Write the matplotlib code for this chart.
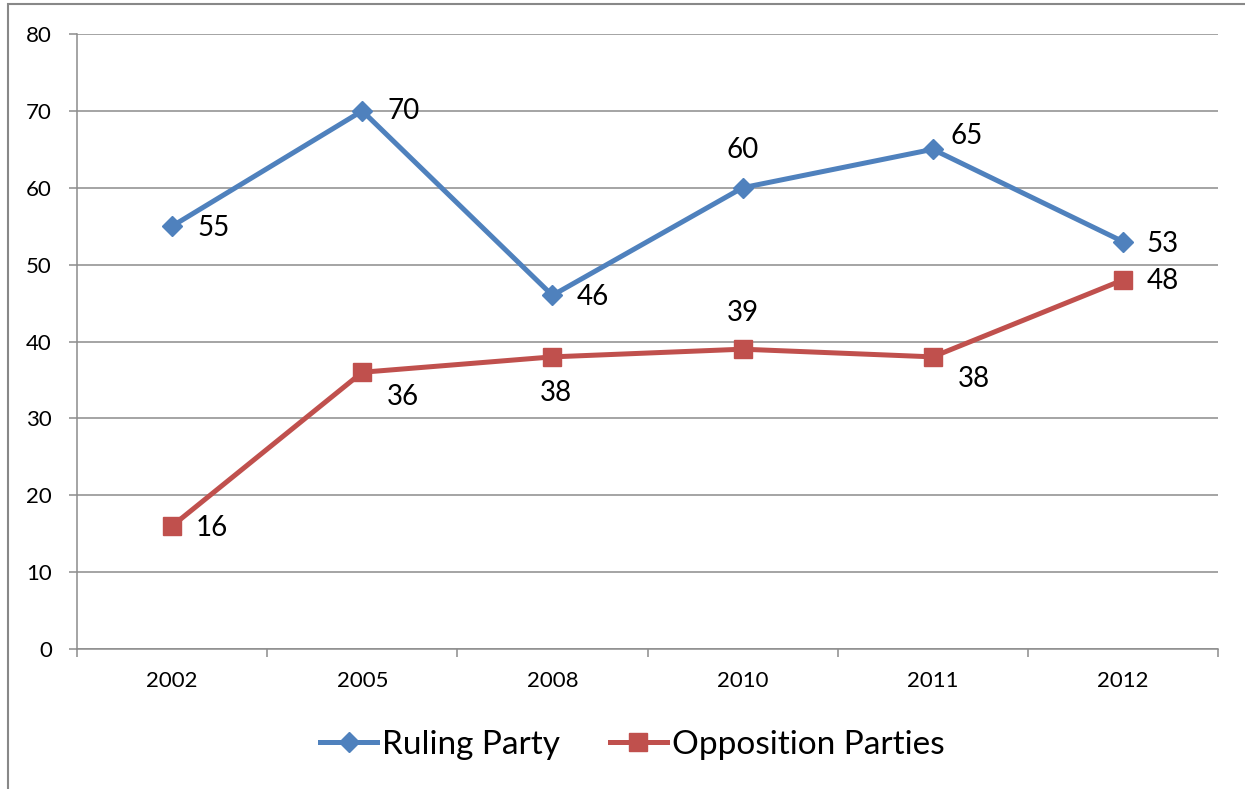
import matplotlib.pyplot as plt
from matplotlib.patches import Rectangle

years = ["2002", "2005", "2008", "2010", "2011", "2012"]
ruling = [55, 70, 46, 60, 65, 53]
opposition = [16, 36, 38, 39, 38, 48]

# label offsets in pixels (dx, dy) relative to each marker
ruling_off = [(41, -2), (41, 0), (40, -2), (0, 38), (34, 13), (40, -2)]
opp_off = [(40, -2), (41, -25), (3, -36), (0, 36), (41, -22), (40, -1)]

blue = "#4F81BD"
red = "#C0504D"
grid_c = "#8C8C8C"

plt.rcParams["font.family"] = ["Lato", "DejaVu Sans"]

fig = plt.figure(figsize=(12.45, 7.89), dpi=100)
ax = fig.add_axes([77 / 1245, 1 - 649 / 789, (1218 - 77) / 1245, (649 - 34) / 789])

x = list(range(len(years)))
ax.plot(x, ruling, color=blue, lw=3.6, marker="D", ms=10, label="Ruling Party",
        zorder=3)
ax.plot(x, opposition, color=red, lw=3.6, marker="s", ms=13,
        label="Opposition Parties", zorder=3)

for xi, v, (dx, dy) in zip(x, ruling, ruling_off):
    ax.annotate(str(v), (xi, v), xytext=(dx * 0.72, dy * 0.72),
                textcoords="offset points", ha="center", va="center",
                fontsize=20)
for xi, v, (dx, dy) in zip(x, opposition, opp_off):
    ax.annotate(str(v), (xi, v), xytext=(dx * 0.72, dy * 0.72),
                textcoords="offset points", ha="center", va="center",
                fontsize=20)

ax.set_xlim(-0.5, len(years) - 0.5)
ax.set_ylim(0, 80)
ax.set_yticks(range(0, 81, 10))
ax.yaxis.grid(True, color=grid_c, lw=1.1)
ax.set_axisbelow(True)

ax.set_xticks([i - 0.5 for i in range(len(years) + 1)])
ax.set_xticklabels([])
ax.set_xticks(x, minor=True)
ax.set_xticklabels(years, minor=True)
ax.tick_params(axis="x", which="major", length=5.5, width=1.1, color=grid_c)
ax.tick_params(axis="x", which="minor", length=0, pad=16, labelsize=16)
ax.tick_params(axis="y", length=6, width=1.1, color=grid_c, pad=12,
               labelsize=16)

for s in ["top", "right"]:
    ax.spines[s].set_visible(False)
for s in ["left", "bottom"]:
    ax.spines[s].set_color(grid_c)
    ax.spines[s].set_linewidth(1.1)

fig.legend(loc="center", bbox_to_anchor=(0.508, 1 - 745 / 789), ncol=2,
           frameon=False, fontsize=24, handlelength=1.7, handletextpad=0.15,
           columnspacing=1.5)

# outer chart frame (partly cut off at right and bottom)
fig.add_artist(Rectangle((8 / 1245, -0.1), 1.2, 1.1 - 4 / 789,
                         transform=fig.transFigure, fill=False,
                         edgecolor="#888888", lw=1.5))

fig.savefig("out.png", dpi=100)
